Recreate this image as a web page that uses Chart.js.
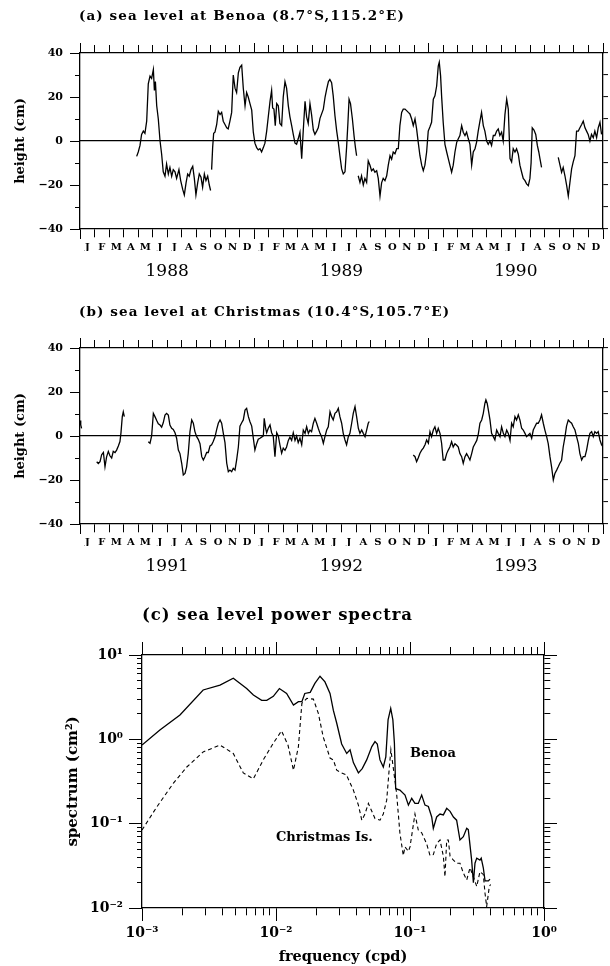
<!DOCTYPE html>
<html><head><meta charset="utf-8">
<script src="https://cdn.jsdelivr.net/npm/chart.js@4/dist/chart.umd.min.js"></script>
<style>
body{margin:0;background:#fff;}
#page{position:relative;width:610px;height:966px;overflow:hidden;background:#fff;}
canvas{position:absolute;left:0;}
.txt{position:absolute;font-family:"DejaVu Serif",serif;font-weight:bold;white-space:nowrap;line-height:1;color:#000;}
</style></head>
<body><div id="page">
<canvas id="ca" width="610" height="280" style="top:0px"></canvas>
<canvas id="cb" width="610" height="290" style="top:285px"></canvas>
<canvas id="cc" width="610" height="376" style="top:590px"></canvas>
<div class="txt" style="left:79px;top:9px;font-size:13.5px;letter-spacing:1.1px">(a) sea level at Benoa (8.7°S,115.2°E)</div>
<div class="txt" style="left:79px;top:305px;font-size:13.5px;letter-spacing:1.1px">(b) sea level at Christmas (10.4°S,105.7°E)</div>
<div class="txt" style="left:142px;top:607px;font-size:16.5px;letter-spacing:0.9px">(c) sea level power spectra</div>
<div class="txt" style="left:410px;top:746px;font-size:13px">Benoa</div>
<div class="txt" style="left:276px;top:830px;font-size:13px">Christmas Is.</div>
</div>
<script>
// ---------- data ----------
const monthLetters = ['J','F','M','A','M','J','J','A','S','O','N','D'];
const benoaYears = ['1988','1989','1990'];
const christmasYears = ['1991','1992','1993'];

const benoaMonth = [
3.90,4.01,4.13,4.24,4.36,4.47,4.59,4.70,4.82,4.93,
5.05,5.12,5.19,5.28,5.39,5.51,5.62,5.73,5.85,5.96,
6.08,6.19,6.31,6.42,6.54,6.65,6.81,6.93,7.07,7.18,
7.30,7.41,7.52,7.64,7.76,7.87,7.98,8.10,8.21,8.33,
8.44,8.56,8.67,8.79,8.90,8.99,9.03,
9.06,9.13,9.20,9.29,9.41,9.52,9.64,9.75,9.86,9.98,
10.10,10.20,10.32,10.44,10.55,10.67,10.78,10.90,11.01,11.13,
11.24,11.36,11.47,11.58,11.70,11.82,11.93,12.04,12.16,12.27,
12.39,12.50,12.62,12.73,12.85,12.96,13.08,13.19,13.26,13.35,
13.44,13.54,13.65,13.76,13.88,13.99,14.11,14.22,14.34,14.45,
14.57,14.68,14.80,14.91,15.02,15.14,15.26,15.37,15.49,15.60,
15.71,15.83,15.94,16.06,16.17,16.29,16.40,16.52,16.75,16.87,
16.98,17.10,17.20,17.32,17.43,17.55,17.67,17.78,17.89,18.01,
18.12,18.24,18.35,18.44,18.52,18.62,18.75,18.87,18.96,19.04,19.10,
19.15,19.27,19.38,19.50,19.61,19.73,19.84,19.96,20.07,20.19,
20.30,20.42,20.53,20.65,20.76,20.87,20.99,21.11,21.22,21.34,
21.45,21.56,21.68,21.80,21.91,22.02,22.14,22.25,22.37,22.48,
22.60,22.71,22.83,22.94,23.06,23.17,23.28,23.40,23.52,23.63,
23.74,23.86,23.97,24.09,24.20,24.32,24.43,24.55,24.66,24.73,
24.82,24.89,25.00,25.12,25.24,25.35,25.46,25.58,25.69,25.81,
25.93,26.04,26.15,26.27,26.38,26.50,26.61,26.73,26.84,26.96,
27.07,27.19,27.30,27.41,27.53,27.64,27.76,27.87,27.99,28.10,
28.22,28.33,28.45,28.56,28.68,28.79,28.90,29.02,29.13,29.25,
29.37,29.48,29.60,29.71,29.82,29.94,30.05,30.17,30.28,30.40,
30.51,30.63,30.74,30.86,30.97,31.05,31.13,31.25,31.37,31.48,
31.58,31.66,31.77,32.30,
32.92,33.04,33.15,33.26,33.38,33.50,33.61,33.72,33.84,33.95,
34.07,34.18,34.30,34.41,34.53,34.64,34.76,34.87,34.98,35.10,
35.21,35.33,35.44,35.56,35.67,35.79,35.90];
const benoaHeight = [
-7,-5,-2,3,4.5,3.5,9,26,29.5,28.5,
32.5,23,27,16,10,0,-6,-14,-16,-10.5,
-15,-12,-16,-13,-14,-17,-13,-18,-22,-24.5,
-19,-15,-16,-13,-11.5,-17,-24.5,-19,-15,-16.5,
-21,-15,-18,-16,-20,-22.5,null,
-13,-3,3.5,4,7.5,13.5,12,13,9,7.5,
6,5.5,9,13,30,24,22,31,33.5,34.5,
24,16,22,20,17,14,4,-1,-3,-4,
-3.5,-5,-3,-1,4.5,11,18,23,15,14.5,
7,17,16,8,7,20,27,24,16,11,
7,3,-1,-1.5,1,4,-8,5,18,11,
8,17,12,5,3,4.5,6,10.3,14.5,20,
23.6,27,28,26.5,20.5,11.5,4.5,-0.6,-6.7,-12.7,
-15,-14,-3,8,19,17,10,2,-3,-6.7,null,
-15.8,-18.8,-15.8,-20,-17,-18.8,-9,-11,-13.5,-12.7,
-14.2,-13.5,-17,-25,-19,-17,-18,-15.8,-11,-6.7,
-8.3,-5,-5.8,-3.5,-3.5,7,13,14.5,14.5,13.8,
13,12.3,10,7,10,5.5,-0.5,-6.7,-11,-13.5,
-11,-5,4.5,6.5,8.5,19,20.5,25,34,35.8,
29.7,20.5,8.5,-1.5,-5,-8,-11,-14.2,-11,-5,
-0.6,1,2.5,7,4,2.5,4,1,-1.5,-11,
-5,-3.5,-0.5,4.5,9,13,7,4.5,0,-1.5,
0,-2,2.5,2.5,4.5,5.5,2.5,4,0,12,
19,14.5,-8,-9.5,-3.5,-5,-3.5,-6,-11,-14.2,
-17,-18,-19.5,-20.3,-17,-10,6,5,3,-2,
-5,-8,-12,null,
-7.4,-11,-14.2,-12,-15.8,-20.3,-25,-19,-12.7,-9.5,
-6.7,4.5,4.5,6,7.5,9,6,4.5,3,0,
3,1.5,4.5,1.5,6,8.5,3];

const christmasMonth = [
0.00,0.05,0.11,0.60,
1.15,1.26,1.38,1.49,1.61,1.72,1.83,1.95,2.06,2.18,
2.29,2.41,2.52,2.64,2.75,2.82,2.91,2.98,3.05,3.90,
4.70,4.82,4.93,5.05,5.16,5.28,5.39,5.51,5.62,5.73,
5.85,5.96,6.08,6.19,6.31,6.42,6.54,6.65,6.77,6.88,
7.00,7.11,7.23,7.34,7.45,7.57,7.69,7.80,7.91,8.03,
8.14,8.26,8.38,8.49,8.60,8.72,8.83,8.95,9.06,9.17,
9.29,9.41,9.52,9.64,9.75,9.86,9.98,10.10,10.21,10.32,
10.44,10.55,10.67,10.78,10.90,11.01,11.13,11.24,11.36,11.47,
11.59,11.70,11.82,11.93,12.04,12.16,12.27,12.39,12.50,12.62,
12.68,12.78,12.85,12.96,13.08,13.19,13.30,13.42,13.54,13.65,
13.76,13.88,13.99,14.11,14.22,14.34,14.45,14.57,14.68,14.80,
14.91,15.02,15.14,15.26,15.37,15.49,15.60,15.72,15.83,15.94,
16.06,16.17,16.29,16.40,16.52,16.63,16.75,16.86,16.98,17.09,
17.21,17.32,17.43,17.55,17.67,17.78,17.89,18.01,18.12,18.24,
18.35,18.47,18.58,18.70,18.81,18.93,19.04,19.16,19.27,19.39,
19.50,19.62,19.73,19.84,19.91,21.40,
22.94,23.06,23.17,23.28,23.40,23.52,23.63,23.75,23.86,23.98,
24.09,24.20,24.32,24.43,24.55,24.66,24.78,24.89,25.00,25.12,
25.24,25.35,25.46,25.58,25.69,25.81,25.93,26.04,26.15,26.27,
26.38,26.50,26.61,26.73,26.84,26.96,27.07,27.19,27.31,27.42,
27.53,27.65,27.76,27.87,27.94,28.03,28.13,28.22,28.33,28.45,
28.56,28.68,28.79,28.91,29.02,29.14,29.25,29.37,29.48,29.60,
29.71,29.82,29.94,30.05,30.17,30.28,30.40,30.51,30.63,30.74,
30.86,30.97,31.09,31.20,31.31,31.43,31.54,31.66,31.77,31.89,
32.00,32.12,32.23,32.35,32.46,32.58,32.69,32.81,32.92,33.03,
33.15,33.26,33.38,33.49,33.61,33.72,33.84,33.95,34.07,34.18,
34.30,34.41,34.53,34.64,34.76,34.87,34.99,35.10,35.22,35.33,
35.44,35.56,35.67,35.79,35.90,36.00];
const christmasHeight = [
7,5,3.5,null,
-11.7,-12.5,-11.7,-8.5,-7.5,-14,-9.5,-7,-9,-10,
-7,-7.5,-6.4,-4.5,-2.5,1.4,8.8,11,8.8,null,
-2.6,-3.3,0,10.3,8.8,7,5.5,5,4,6,
9.5,10.3,9.5,5,3.5,3,1.5,-1,-6.4,-8,
-12.4,-17.7,-17,-14,-8,2,7.3,5.8,2,-0.3,
-1.5,-3.5,-9.4,-10.9,-9.4,-7.5,-7.5,-4.5,-4,-2.5,
-0.5,3,5.8,7.3,5.8,1.4,-3,-12.4,-16.2,-15.5,
-16.2,-14.7,-15.5,-11,-5,4.5,6,7.3,11.8,12.6,
8.8,6.5,4.5,-1,-6.4,-3.5,-1.5,-1,-0.5,0,
8,3.5,1.5,3.5,5,1.5,0,-9.4,1.5,0,
-4,-7.8,-5.5,-6.5,-5,-2,-0.5,-2,1.5,-2,
0,-3,-1,-4,2.7,1.2,4.2,1.2,2.7,2,
5.8,8,5.8,3.5,1.2,-0.3,-3.3,-0.3,2.7,4.2,
11,8.8,7.3,10.3,11,12.6,8.8,5.8,1.2,-1.8,
-4,-0.3,1.2,5.8,10.3,13.3,8.8,3.5,1.2,2.7,
1.2,-0.3,2.7,5.8,6.6,null,
-8.6,-9.4,-11.7,-10,-7.8,-6.4,-5.5,-4,-1.8,-3.3,
2,-0.3,2.7,4.2,1.2,3.5,1.2,-3.3,-10.9,-10.9,
-8,-6.4,-5,-2.6,-5,-3.5,-4.2,-5,-8,-9.4,
-12.4,-9.4,-8,-9.4,-10.9,-8,-5,-3.5,-2,1,
5.8,7.3,10.3,14.8,16.4,14.8,11,7.3,1.2,-0.3,
-1.8,2.7,1.2,-0.3,4.2,1.2,-0.3,2.7,1.2,-2,
5.8,4.2,8.8,7.3,9.6,7.3,3.5,2.7,1.2,-0.3,
0.5,1.2,-1,2.7,4.2,5.8,5.8,7.3,9.6,5.8,
2.7,-0.3,-3.5,-9.4,-14,-20,-17,-15.5,-14,-12.4,
-11,-5,-0.5,4.5,7.3,6.5,5.8,4.2,2.7,-0.3,
-3.3,-8,-10.9,-9.4,-9.4,-6.4,-2,1.2,2,-0.3,
2,1.2,2,-1.8,-4,-5];

const benoaFreq = [0.001,0.00136,0.00192,0.00286,0.00382,0.0048,0.00604,0.00678,0.00782,0.00853,
0.00955,0.0106,0.0120,0.0135,0.0147,0.0156,0.0164,0.0180,0.0195,0.0213,
0.0232,0.0253,0.0268,0.0284,0.0309,0.0337,0.0357,0.0378,0.0412,0.0440,
0.0475,0.0519,0.0548,0.0570,0.0597,0.0632,0.0660,0.0686,0.0718,0.0745,
0.0765,0.0782,0.0841,0.0918,0.0973,0.103,0.1089,0.1153,0.1222,0.1294,
0.1371,0.1452,0.1493,0.1581,0.1675,0.1774,0.1879,0.1991,0.2109,0.2228,
0.236,0.25,0.265,0.2723,0.2884,0.2972,0.3055,0.3148,0.3327,0.34,
0.3524,0.3631,0.3846,0.3954];
const benoaSpec = [0.855,1.29,1.94,3.85,4.4,5.3,4.0,3.35,2.9,2.9,
3.24,4.0,3.5,2.55,2.8,2.8,3.5,3.6,4.6,5.6,
4.8,3.5,2.2,1.55,0.88,0.68,0.75,0.53,0.40,0.45,
0.57,0.82,0.94,0.88,0.57,0.47,0.62,1.7,2.33,1.7,
0.9,0.26,0.25,0.218,0.166,0.20,0.174,0.174,0.218,0.166,
0.16,0.12,0.088,0.12,0.13,0.127,0.152,0.14,0.12,0.11,
0.064,0.07,0.088,0.085,0.037,0.02,0.034,0.039,0.037,0.039,
0.030,0.021,0.021,0.022];

const christmasFreq = [0.001,0.00129,0.00171,0.00216,0.00286,0.00382,0.0048,0.0057,0.00678,0.00803,
0.00955,0.0110,0.0123,0.0135,0.0147,0.0156,0.0170,0.0190,0.0207,0.0225,
0.0253,0.0268,0.0284,0.0309,0.0335,0.0378,0.0412,0.0437,0.0461,0.0489,
0.0519,0.0548,0.0597,0.0632,0.0670,0.0700,0.0720,0.0745,0.0794,0.0841,
0.0891,0.0918,0.0973,0.100,0.1089,0.1153,0.1222,0.133,0.141,0.1493,
0.1581,0.1675,0.1774,0.1824,0.1879,0.1932,0.1991,0.2109,0.2228,0.236,
0.25,0.265,0.2805,0.2972,0.3148,0.3327,0.3524,0.3631,0.3733,0.3908,0.3999];
const christmasSpec = [0.084,0.158,0.30,0.47,0.71,0.855,0.68,0.40,0.34,0.57,
0.90,1.26,0.85,0.43,0.82,2.67,3.06,3.0,2.03,1.07,
0.60,0.57,0.43,0.40,0.38,0.25,0.166,0.11,0.13,0.174,
0.14,0.115,0.11,0.13,0.19,0.45,0.75,0.5,0.23,0.077,
0.042,0.053,0.047,0.053,0.13,0.084,0.078,0.058,0.042,0.043,
0.058,0.064,0.041,0.0235,0.064,0.064,0.041,0.037,0.034,0.034,
0.026,0.0215,0.030,0.0235,0.018,0.027,0.025,0.0149,0.0104,0.018,0.019];

const freqDecadeLabels = ['10⁻³','10⁻²','10⁻¹','10⁰'];
const specDecadeLabels = ['10⁻²','10⁻¹','10⁰','10¹'];

// ---------- helpers ----------
const SERIF = '"DejaVu Serif", serif';
const BLACK = '#000';
const pts = (xs, ys) => xs.map((x, i) => ({x: x, y: ys[i]}));
const setTicks = arr => s => { s.ticks = arr.map(v => ({value: v})); };
function tickTrim(isMajor, L, m, outerFirst) {
  return {
    tickLength: L,
    tickBorderDash: c => (!c.tick || isMajor(c.tick.value)) ? [] : [m, L - m],
    tickBorderDashOffset: c => (!c.tick || isMajor(c.tick.value) || !outerFirst) ? 0 : m
  };
}
const border = {display: true, color: BLACK, width: 1.3};

function seriesChart(id, months, heights, years, topH) {
  const monthTicks = Array.from({length: 37}, (_, i) => i);
  const yTicks = [-40, -30, -20, -10, 0, 10, 20, 30, 40];
  const yearBound = v => Math.round(v) % 12 === 0;
  const yMajor = v => Math.round(v) % 20 === 0;
  return new Chart(document.getElementById(id), {
    type: 'line',
    data: {datasets: [{data: pts(months, heights), borderColor: BLACK, borderWidth: 1.3,
      pointRadius: 0, tension: 0, spanGaps: false, xAxisID: 'x', yAxisID: 'y'}]},
    options: {
      responsive: false, animation: false, events: [],
      layout: {padding: 0},
      plugins: {legend: {display: false}, tooltip: {enabled: false}},
      scales: {
        x: {type: 'linear', position: 'bottom', weight: 0, min: 0, max: 36,
          afterBuildTicks: setTicks(monthTicks), afterFit: s => { s.height = 22; },
          grid: Object.assign({display: true, drawOnChartArea: false, color: BLACK, lineWidth: 1, tickWidth: 1, tickColor: BLACK}, tickTrim(yearBound, 10, 8, false)),
          border: border,
          ticks: {autoSkip: false, maxRotation: 0, minRotation: 0, padding: 2, labelOffset: 7.26, color: BLACK,
            font: {family: SERIF, size: 10, weight: 'bold'},
            callback: (v, i) => i < 36 ? monthLetters[i % 12] : ''}},
        xYear: {type: 'linear', position: 'bottom', weight: 1, min: 0, max: 36,
          afterBuildTicks: setTicks([6, 18, 30]), afterFit: s => { s.height = 29; },
          grid: {display: false}, border: {display: false},
          ticks: {autoSkip: false, maxRotation: 0, minRotation: 0, padding: 2, color: BLACK,
            font: {family: SERIF, size: 17}, callback: (v, i) => years[i]}},
        xTop: {type: 'linear', position: 'top', min: 0, max: 36,
          afterBuildTicks: setTicks(monthTicks), afterFit: s => { s.height = topH; },
          grid: Object.assign({display: true, drawOnChartArea: false, color: BLACK, lineWidth: 1, tickWidth: 1, tickColor: BLACK}, tickTrim(yearBound, 10, 8, true)),
          border: border,
          ticks: {autoSkip: false, maxRotation: 0, callback: () => ''}},
        y: {type: 'linear', position: 'left', min: -40, max: 40,
          afterBuildTicks: setTicks(yTicks), afterFit: s => { s.width = 80; },
          grid: Object.assign({display: true, drawOnChartArea: false, color: BLACK, lineWidth: 1, tickWidth: 1, tickColor: BLACK}, tickTrim(yMajor, 10, 5, true)),
          border: border,
          ticks: {autoSkip: false, padding: 7, color: BLACK, font: {family: SERIF, size: 11, weight: 'bold'},
            callback: v => Math.round(v) % 20 === 0 ? (v < 0 ? '\u2212' + (-v) : String(v)) : ''},
          title: {display: true, text: 'height (cm)', color: BLACK, font: {family: SERIF, size: 13, weight: 'bold'}, padding: {top: 13, bottom: 0}}},
        yRight: {type: 'linear', position: 'right', min: -40, max: 40,
          afterBuildTicks: setTicks(yTicks), afterFit: s => { s.width = 7; },
          grid: {display: true, drawOnChartArea: true,
            color: c => (c.tick && c.tick.value === 0) ? BLACK : 'rgba(0,0,0,0)',
            lineWidth: 1.2, tickLength: 5, tickWidth: 1, tickColor: BLACK},
          border: border,
          ticks: {autoSkip: false, callback: () => ''}}
      }
    }
  });
}

seriesChart('ca', benoaMonth, benoaHeight, benoaYears, 53);
seriesChart('cb', christmasMonth, christmasHeight, christmasYears, 63);

// ---------- spectra ----------
function logTickValues(lo, hi) {
  const out = [];
  for (let e = lo; e < hi; e++) for (let k = 1; k < 10; k++) out.push(k * Math.pow(10, e));
  out.push(Math.pow(10, hi));
  return out;
}
const isDecade = v => Math.abs(Math.log10(v) - Math.round(Math.log10(v))) < 1e-6;
const fTicks = logTickValues(-3, 0);
const sTicks = logTickValues(-2, 1);
const decLabel = (labels, lo) => v => isDecade(v) ? labels[Math.round(Math.log10(v)) - lo] : '';
const gridBase = {display: true, drawOnChartArea: false, color: BLACK, lineWidth: 1, tickWidth: 1, tickColor: BLACK};

new Chart(document.getElementById('cc'), {
  type: 'line',
  data: {datasets: [
    {data: pts(benoaFreq, benoaSpec), borderColor: BLACK, borderWidth: 1.3, pointRadius: 0, tension: 0, xAxisID: 'x', yAxisID: 'y'},
    {data: pts(christmasFreq, christmasSpec), borderColor: BLACK, borderWidth: 1.1, borderDash: [4, 3], pointRadius: 0, tension: 0, xAxisID: 'x', yAxisID: 'y'}
  ]},
  options: {
    responsive: false, animation: false, events: [],
    layout: {padding: 0},
    plugins: {legend: {display: false}, tooltip: {enabled: false}},
    scales: {
      x: {type: 'logarithmic', position: 'bottom', min: 0.001, max: 1,
        afterBuildTicks: setTicks(fTicks), afterFit: s => { s.height = 58; },
        grid: Object.assign({}, gridBase, tickTrim(isDecade, 13, 7, false)), border: border,
        ticks: {autoSkip: false, maxRotation: 0, minRotation: 0, padding: 4, color: BLACK,
          font: {family: SERIF, size: 14, weight: 'bold'}, callback: decLabel(freqDecadeLabels, -3)},
        title: {display: true, text: 'frequency (cpd)', color: BLACK, font: {family: SERIF, size: 14.5, weight: 'bold'}, padding: {top: 0, bottom: 0}}},
      xTop: {type: 'logarithmic', position: 'top', min: 0.001, max: 1,
        afterBuildTicks: setTicks(fTicks), afterFit: s => { s.height = 65; },
        grid: Object.assign({}, gridBase, tickTrim(isDecade, 13, 8, true)), border: border,
        ticks: {autoSkip: false, maxRotation: 0, callback: () => ''}},
      y: {type: 'logarithmic', position: 'left', min: 0.01, max: 10,
        afterBuildTicks: setTicks(sTicks), afterFit: s => { s.width = 142; },
        grid: Object.assign({}, gridBase, tickTrim(isDecade, 13, 5, true)), border: border,
        ticks: {autoSkip: false, padding: 6, color: BLACK,
          font: {family: SERIF, size: 14, weight: 'bold'}, callback: decLabel(specDecadeLabels, -2)},
        title: {display: true, text: 'spectrum (cm²)', color: BLACK, font: {family: SERIF, size: 15, weight: 'bold'}, padding: {top: 64, bottom: 0}}},
      yRight: {type: 'logarithmic', position: 'right', min: 0.01, max: 10,
        afterBuildTicks: setTicks(sTicks), afterFit: s => { s.width = 66; },
        grid: Object.assign({}, gridBase, tickTrim(isDecade, 13, 6, false)), border: border,
        ticks: {autoSkip: false, callback: () => ''}}
    }
  }
});
</script>
</body></html>
